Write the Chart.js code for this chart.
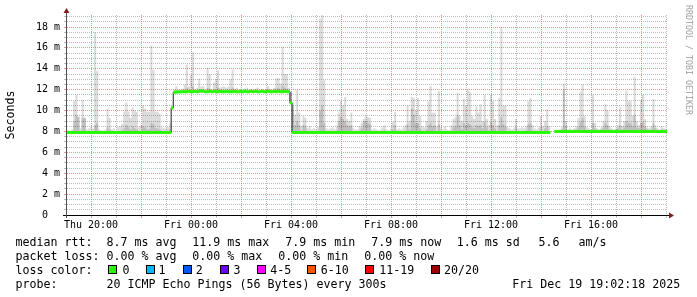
<!DOCTYPE html>
<html>
<head>
<meta charset="utf-8">
<script src="https://cdn.jsdelivr.net/npm/chart.js@4/dist/chart.umd.min.js"></script>
<style>
html,body{margin:0;padding:0;background:#fff;}
#wrap{position:relative;width:697px;height:297px;overflow:hidden;background:#fff;}
#c{position:absolute;left:0;top:0;}
.t{position:absolute;font-family:'DejaVu Sans Mono',monospace;font-size:11.63px;line-height:14px;white-space:pre;color:#000;}
.sq{position:absolute;top:265px;width:7px;height:7px;border:1px solid #000;}
#wm{position:absolute;left:692.8px;top:5px;transform-origin:0 0;transform:rotate(90deg);font-family:'DejaVu Sans Mono',monospace;font-size:8.3px;line-height:9px;color:#a0a0a0;white-space:pre;}
</style>
</head>
<body>
<div id="wrap">
<canvas id="c" width="697" height="297"></canvas>
<div id="wm">RRDTOOL / TOBI OETIKER</div>

<div class="t" style="left:15.5px;top:234.5px">median rtt:  8.7 ms avg</div>
<div class="t" style="left:185.2px;top:234.5px"> 11.9 ms max</div>
<div class="t" style="left:271.3px;top:234.5px">  7.9 ms min</div>
<div class="t" style="left:357.3px;top:234.5px">  7.9 ms now</div>
<div class="t" style="left:442.8px;top:234.5px">  1.6 ms sd</div>
<div class="t" style="left:538.4px;top:234.5px">5.6</div>
<div class="t" style="left:578.6px;top:234.5px">am/s</div>

<div class="t" style="left:15.5px;top:248.5px">packet loss: 0.00 % avg</div>
<div class="t" style="left:185.2px;top:248.5px"> 0.00 % max</div>
<div class="t" style="left:271.3px;top:248.5px"> 0.00 % min</div>
<div class="t" style="left:357.3px;top:248.5px"> 0.00 % now</div>

<div class="t" style="left:15.5px;top:262.5px">loss color:</div>
<div class="sq" style="left:108px;background:#26ff00"></div><div class="t" style="left:122.5px;top:262.5px">0</div>
<div class="sq" style="left:146px;background:#00b8ff"></div><div class="t" style="left:158.5px;top:262.5px">1</div>
<div class="sq" style="left:183px;background:#0059ff"></div><div class="t" style="left:195.8px;top:262.5px">2</div>
<div class="sq" style="left:220px;background:#6a00ff"></div><div class="t" style="left:233.4px;top:262.5px">3</div>
<div class="sq" style="left:257px;background:#ff00ff"></div><div class="t" style="left:270.2px;top:262.5px">4-5</div>
<div class="sq" style="left:307px;background:#ff5500"></div><div class="t" style="left:320.8px;top:262.5px">6-10</div>
<div class="sq" style="left:365px;background:#ff0000"></div><div class="t" style="left:379.2px;top:262.5px">11-19</div>
<div class="sq" style="left:431px;background:#a10000"></div><div class="t" style="left:444.1px;top:262.5px">20/20</div>

<div class="t" style="left:15.5px;top:276.5px">probe:       20 ICMP Echo Pings (56 Bytes) every 300s</div>
<div class="t" style="left:512.2px;top:276.5px">Fri Dec 19 19:02:18 2025</div>
</div>

<script>
// ---- time axis (hours since Thu 00:00), 5-minute bins ----
const START_H = 19 + 2/60 + 18/3600;   // Thu 19:02:18
const STEP_H = 5/60;
const xTickHours = [20, 24, 28, 32, 36, 40];
const xTickLabels = ["Thu 20:00", "Fri 00:00", "Fri 04:00", "Fri 08:00", "Fri 12:00", "Fri 16:00"];
const yTickValues = [0, 2, 4, 6, 8, 10, 12, 14, 16, 18];
const yTickLabels = ["0  ", "2 m", "4 m", "6 m", "8 m", "10 m", "12 m", "14 m", "16 m", "18 m"];

// median rtt (ms), one value per 5-minute bin
const median = [
7.9,7.9,7.9,7.9,7.9,7.9,7.9,7.9,7.9,7.9,7.9,7.9,
7.9,7.9,7.9,7.9,7.9,7.9,7.9,7.9,7.9,7.9,7.9,7.9,
7.9,7.9,7.9,7.9,7.9,7.9,7.9,7.9,7.9,7.9,7.9,7.9,
7.9,7.9,7.9,7.9,7.9,7.9,7.9,7.9,7.9,7.9,7.9,7.9,
7.9,7.9,10.25,11.75,11.75,11.8,11.8,11.8,11.8,11.8,11.85,11.8,
11.8,11.85,11.8,11.85,11.9,11.85,11.8,11.8,11.85,11.8,11.85,11.8,
11.8,11.85,11.8,11.8,11.85,11.8,11.8,11.8,11.85,11.8,11.8,11.85,
11.8,11.85,11.8,11.8,11.85,11.8,11.85,11.8,11.8,11.85,11.8,11.8,
11.85,11.8,11.8,11.85,11.8,11.85,11.8,11.8,11.85,11.8,11.8,10.75,
7.9,7.9,7.9,7.9,7.9,7.9,7.9,7.9,7.9,7.9,7.9,7.9,
7.9,7.9,7.9,7.9,7.9,7.9,7.9,7.9,7.9,7.9,7.9,7.9,
7.9,7.9,7.9,7.9,7.9,7.9,7.9,7.9,7.9,7.9,7.9,7.9,
7.9,7.9,7.9,7.9,7.9,7.9,7.9,7.9,7.9,7.9,7.9,7.9,
7.9,7.9,7.9,7.9,7.9,7.9,7.9,7.9,7.9,7.9,7.9,7.9,
7.9,7.9,7.9,7.9,7.9,7.9,7.9,7.9,7.9,7.9,7.9,7.9,
7.9,7.9,7.9,7.9,7.9,7.9,7.9,7.9,7.9,7.9,7.9,7.9,
7.9,7.9,7.9,7.9,7.9,7.9,7.9,7.9,7.9,7.9,7.9,7.9,
7.9,7.9,7.9,7.9,7.9,7.9,7.9,7.9,7.9,7.9,7.9,7.9,
7.9,7.9,7.9,7.9,7.9,7.9,7.9,7.9,7.9,7.9,7.9,7.9,
7.9,7.9,7.9,7.9,null,null,8.0,8.0,8.0,8.0,8.0,8.0,
8.0,8.0,8.0,8.0,8.0,8.0,8.0,8.0,8.0,8.0,8.0,8.0,
8.0,8.0,8.0,8.0,8.0,8.0,8.0,8.0,8.0,8.0,8.0,8.0,
8.0,8.0,8.0,8.0,8.0,8.0,8.0,8.0,8.0,8.0,8.0,8.0,
8.0,8.0,8.0,8.0,8.0,8.0,8.0,8.0,8.0,8.0,8.0,8.0
];

// smoke: lowest ping (ms)
const smokeLo = [
7.75,7.75,7.75,7.75,7.75,7.75,7.75,7.75,7.75,7.75,7.75,7.75,
7.75,7.75,7.75,7.75,7.75,7.75,7.75,7.75,7.75,7.75,7.75,7.75,
7.75,7.75,7.75,7.75,7.75,7.75,7.75,7.75,7.75,7.75,7.75,7.75,
7.75,7.75,7.75,7.75,7.75,7.75,7.75,7.75,7.75,7.75,7.75,7.75,
7.75,7.75,10.1,11.65,11.7,11.7,11.7,11.7,11.7,11.7,11.7,11.7,
11.7,11.7,11.7,11.7,11.7,11.7,11.7,11.7,11.7,11.7,11.7,11.7,
11.7,11.7,11.7,11.7,11.7,11.7,11.7,11.7,11.7,11.7,11.7,11.7,
11.7,11.7,11.7,11.7,11.7,11.7,11.7,11.7,11.7,11.7,11.7,11.7,
11.7,11.7,11.7,11.7,11.7,11.7,11.7,11.7,11.7,11.7,11.7,10.6,
7.75,7.75,7.75,7.75,7.75,7.75,7.75,7.75,7.75,7.75,7.75,7.75,
7.75,7.75,7.75,7.75,7.75,7.75,7.75,7.75,7.75,7.75,7.75,7.75,
7.75,7.75,7.75,7.75,7.75,7.75,7.75,7.75,7.75,7.75,7.75,7.75,
7.75,7.75,7.75,7.75,7.75,7.75,7.75,7.75,7.75,7.75,7.75,7.75,
7.75,7.75,7.75,7.75,7.75,7.75,7.75,7.75,7.75,7.75,7.75,7.75,
7.75,7.75,7.75,7.75,7.75,7.75,7.75,7.75,7.75,7.75,7.75,7.75,
7.75,7.75,7.75,7.75,7.75,7.75,7.75,7.75,7.75,7.75,7.75,7.75,
7.75,7.75,7.75,7.75,7.75,7.75,7.75,7.75,7.75,7.75,7.75,7.75,
7.75,7.75,7.75,7.75,7.75,7.75,7.75,7.75,7.75,7.75,7.75,7.75,
7.75,7.75,7.75,7.75,7.75,7.75,7.75,7.75,7.75,7.75,7.75,7.75,
7.75,7.75,7.75,7.75,null,null,7.85,7.85,7.85,7.85,7.85,7.85,
7.85,7.85,7.85,7.85,7.85,7.85,7.85,7.85,7.85,7.85,7.85,7.85,
7.85,7.85,7.85,7.85,7.85,7.85,7.85,7.85,7.85,7.85,7.85,7.85,
7.85,7.85,7.85,7.85,7.85,7.85,7.85,7.85,7.85,7.85,7.85,7.85,
7.85,7.85,7.85,7.85,7.85,7.85,7.85,7.85,7.85,7.85,7.85,7.85
];

// smoke: dense core top (ms) - darker grey
const smokeMid = [
8.0,8.0,8.0,9.0,9.6,9.4,8.0,9.3,9.3,8.0,8.0,8.0,
8.0,8.6,8.8,8.0,8.0,8.0,8.0,8.4,8.2,8.0,8.0,8.0,
8.0,8.0,8.1,8.3,8.6,8.4,8.2,8.5,8.3,8.2,8.0,8.0,
8.5,8.4,8.2,8.2,8.8,8.7,8.3,8.3,8.2,8.0,8.0,8.0,
8.0,8.2,10.3,11.9,11.95,11.9,11.9,11.95,12.0,12.2,11.95,12.0,
12.3,11.95,11.95,12.0,12.0,12.0,11.9,12.2,12.1,11.95,12.0,12.0,
12.2,11.95,12.0,11.95,11.95,12.0,12.0,12.2,11.95,11.95,11.9,11.95,
11.9,11.95,11.95,11.9,11.95,11.9,11.95,11.95,11.9,11.95,11.9,11.95,
12.0,11.95,11.9,11.95,12.1,12.2,12.0,12.4,12.2,12.1,11.95,11.8,
10.4,8.6,9.0,8.6,8.0,8.6,8.5,8.0,8.0,8.0,8.0,8.0,
8.0,10.0,10.5,8.8,8.0,8.0,8.0,8.0,8.0,8.1,9.0,9.4,
9.2,9.0,8.6,8.5,8.6,8.0,8.0,8.0,8.1,8.3,9.0,9.0,
8.8,8.7,8.0,8.0,8.0,8.0,8.0,8.0,8.1,8.0,8.0,8.0,
8.2,8.6,8.0,8.0,8.0,8.0,8.1,8.7,8.2,10.2,9.6,8.8,
8.8,8.3,8.0,8.0,8.2,8.6,8.8,8.5,8.6,8.0,8.7,8.0,
8.0,8.0,8.0,8.0,8.1,8.4,8.5,9.6,8.6,8.2,8.8,8.6,
8.8,8.7,8.4,8.3,8.6,8.5,8.6,8.3,8.9,8.4,8.1,8.9,
8.6,8.3,8.0,8.6,9.4,8.7,8.5,8.0,8.0,8.0,8.0,8.4,
8.0,8.0,8.0,8.0,8.1,8.7,8.8,8.1,8.0,8.0,8.0,8.4,
8.0,8.3,8.5,8.0,null,null,8.1,8.1,8.1,8.2,12.0,8.5,
8.1,8.1,8.1,8.1,8.2,8.4,8.9,9.3,8.5,8.1,8.1,8.1,
8.8,8.3,8.1,8.1,8.2,8.4,8.8,8.6,8.2,8.1,8.1,8.1,
8.3,8.6,8.2,8.4,9.0,8.8,8.8,8.5,9.6,8.4,8.3,8.8,
8.9,8.5,8.2,8.1,8.2,8.8,8.3,8.1,8.1,8.2,8.1,8.1
];

// smoke: highest ping (ms) - light grey
const smokeHi = [
8.1,8.0,8.2,10.9,11.5,9.4,8.3,11.0,9.3,8.2,8.3,8.4,
8.3,17.5,13.8,8.2,8.1,8.1,8.2,10.2,9.3,8.2,8.3,8.1,
8.4,8.5,8.7,9.9,10.8,9.9,9.3,10.3,10.0,9.85,8.4,8.6,
10.5,10.2,9.9,9.9,16.25,13.9,9.9,9.9,9.7,8.4,8.3,8.3,
8.4,8.8,10.3,12.0,12.35,12.0,12.0,12.1,12.5,14.4,12.3,13.4,
15.6,12.0,12.2,13.05,12.3,12.35,12.0,14.1,13.5,12.0,12.7,13.0,
13.85,12.2,12.3,12.3,12.2,12.3,13.0,13.95,12.1,12.2,12.0,12.1,
12.0,12.1,12.2,12.0,12.1,12.0,12.1,12.2,12.0,12.1,12.0,12.1,
12.35,12.1,12.0,12.2,13.1,13.1,12.6,16.1,13.5,13.5,12.2,11.8,
10.8,9.6,12.0,9.8,8.5,9.5,9.3,8.3,8.5,8.2,8.3,8.2,
8.4,18.8,19.15,12.9,8.3,8.2,8.3,8.4,8.2,8.5,9.8,10.9,
10.5,11.3,9.2,9.0,9.8,8.3,8.2,8.2,8.5,8.8,9.2,9.45,
9.4,9.3,8.2,8.3,8.2,8.1,8.2,8.4,8.6,8.2,8.1,8.3,
8.9,9.87,8.2,8.3,8.2,8.4,8.6,10.5,9.0,11.3,11.2,10.0,
11.2,9.5,8.5,8.4,9.0,10.9,12.35,9.8,9.8,8.5,11.85,8.4,
8.2,8.5,8.2,8.1,8.6,9.2,9.4,11.7,9.5,9.0,11.1,10.5,
12.0,11.8,9.5,9.2,10.4,9.8,10.6,9.0,11.5,9.2,8.6,11.5,
10.9,9.2,8.6,11.2,18.0,10.5,10.5,8.4,8.3,8.2,8.3,9.2,
8.3,8.3,8.4,8.3,8.5,10.9,11.2,8.6,8.3,8.2,8.4,9.5,
8.5,9.0,10.1,8.5,null,null,8.2,8.1,8.2,8.4,12.6,9.0,
8.2,8.3,8.2,8.3,8.5,9.3,11.8,12.5,9.5,8.4,8.3,8.2,
11.5,8.8,8.3,8.2,8.4,9.0,10.6,10.0,8.5,8.3,8.2,8.3,
8.6,10.3,8.5,9.0,11.9,10.9,10.9,9.5,13.2,9.0,8.6,11.0,
11.5,9.2,8.4,8.3,8.5,11.1,8.6,8.3,8.2,8.5,8.3,8.2
];

// ---- build chart points ----
const xAt = i => START_H + (i + 0.5) * STEP_H;
const medPts = [], lightPts = [], darkPts = [];
for (let i = 0; i < median.length; i++) {
  const x = xAt(i);
  medPts.push({x: x, y: median[i]});
  if (smokeHi[i] != null) {
    lightPts.push({x: x, y: [smokeLo[i], smokeHi[i]]});
    darkPts.push({x: x, y: [smokeLo[i], smokeMid[i]]});
  }
}

const FONT = "'DejaVu Sans Mono', monospace";
const MAJOR = 'rgba(222,79,79,0.6)';
const MINOR = 'rgba(143,143,143,0.6)';
const xGrid = []; for (let h = 20; h <= 43; h++) xGrid.push(h);
const yGrid = []; for (let k = 0; k <= 38; k++) yGrid.push(k / 2);
const BIN_PX = 600 / 288;

const axesPlugin = {
  id: 'rrdAxes',
  afterDraw(chart) {
    const {ctx, chartArea: a} = chart;
    ctx.save();
    ctx.lineWidth = 1;
    ctx.strokeStyle = '#000';
    ctx.beginPath();
    ctx.moveTo(a.left - 4, a.bottom + 0.5);
    ctx.lineTo(a.right + 3, a.bottom + 0.5);
    ctx.stroke();
    ctx.strokeStyle = '#505050';
    ctx.beginPath();
    ctx.moveTo(a.left - 0.5, a.bottom + 3);
    ctx.lineTo(a.left - 0.5, a.top - 3);
    ctx.stroke();
    ctx.fillStyle = '#801f1f';
    ctx.beginPath();
    ctx.moveTo(a.left - 0.5, a.top - 7);
    ctx.lineTo(a.left - 3.5, a.top - 2);
    ctx.lineTo(a.left + 2.5, a.top - 2);
    ctx.closePath();
    ctx.fill();
    ctx.beginPath();
    ctx.moveTo(a.right + 7, a.bottom + 0.5);
    ctx.lineTo(a.right + 2, a.bottom - 2.5);
    ctx.lineTo(a.right + 2, a.bottom + 3.5);
    ctx.closePath();
    ctx.fill();
    ctx.restore();
  }
};

new Chart(document.getElementById('c'), {
  type: 'bar',
  data: {
    datasets: [
      {
        type: 'line', label: 'median', data: medPts, order: 0,
        showLine: false, pointStyle: 'line', pointRadius: 1.15, pointHoverRadius: 1.15,
        pointBorderWidth: 3, pointBorderColor: '#26ff00', pointBackgroundColor: '#26ff00'
      },
      {
        type: 'line', label: 'median line', data: medPts, order: 1,
        stepped: 'middle', borderColor: '#202020', borderWidth: 1, pointRadius: 0,
        spanGaps: false, fill: false
      },
      {
        type: 'bar', label: 'smoke core', data: darkPts, order: 2, stack: 'smoke',
        backgroundColor: 'rgba(0,0,0,0.145)', borderWidth: 0, inflateAmount: 0,
        barThickness: BIN_PX
      },
      {
        type: 'bar', label: 'smoke', data: lightPts, order: 3, stack: 'smoke',
        backgroundColor: 'rgba(0,0,0,0.14)', borderWidth: 0, inflateAmount: 0,
        barThickness: BIN_PX
      }
    ]
  },
  options: {
    responsive: false,
    animation: false,
    devicePixelRatio: 1,
    events: [],
    layout: {padding: {left: 0, right: 30, top: 15, bottom: 62}},
    plugins: {legend: {display: false}, tooltip: {enabled: false}},
    scales: {
      x: {
        type: 'linear',
        min: START_H, max: START_H + 24,
        offset: false,
        afterFit: s => { s.height = 20; },
        afterBuildTicks: s => { s.ticks = xGrid.map(v => ({value: v})); },
        grid: {
          offset: false, lineWidth: 1, drawTicks: true, tickLength: 3,
          color: c => (c.tick && c.tick.value % 2 === 0) ? MAJOR : MINOR
        },
        border: {display: false, dash: [1, 1]},
        ticks: {
          autoSkip: false, maxRotation: 0, minRotation: 0, padding: 1,
          font: {family: FONT, size: 10}, color: '#000',
          callback: v => { const k = xTickHours.indexOf(v); return k >= 0 ? xTickLabels[k] : ''; }
        }
      },
      y: {
        type: 'linear',
        min: 0, max: 19.15,
        stacked: false,
        afterFit: s => { s.width = 67; },
        afterBuildTicks: s => { s.ticks = yGrid.map(v => ({value: v})); },
        grid: {
          lineWidth: 1, drawTicks: true, tickLength: 3,
          color: c => (c.tick && c.tick.value % 2 === 0) ? MAJOR : MINOR
        },
        border: {display: false, dash: [1, 1]},
        title: {
          display: true, text: 'Seconds', color: '#000',
          font: {family: FONT, size: 11.63}, padding: {top: 4, bottom: 0}
        },
        ticks: {
          autoSkip: false, padding: 4,
          font: {family: FONT, size: 10}, color: '#000',
          callback: v => { const k = yTickValues.indexOf(v); return k >= 0 ? yTickLabels[k] : ''; }
        }
      }
    }
  },
  plugins: [axesPlugin]
});
</script>
</body>
</html>
